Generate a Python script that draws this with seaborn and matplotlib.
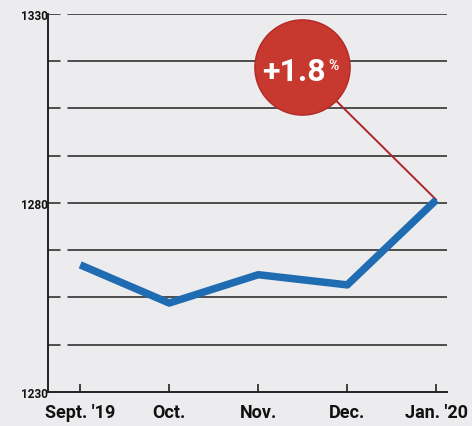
import numpy as np
import pandas as pd
import seaborn as sns
import matplotlib.pyplot as plt

months = ["Sept. '19", "Oct.", "Nov.", "Dec.", "Jan. '20"]
values = [1263.6, 1253.5, 1261.0, 1258.3, 1280.8]
change_label = "+1.8"
y_ticks = [1230, 1280, 1330]
grid_levels = [1230, 1242.5, 1255, 1267.5, 1280, 1292.5, 1305, 1317.5, 1330]

paper = "#ececee"
blue = "#1f6cb3"
red = "#c7382e"

df = pd.DataFrame({"pos": np.arange(len(months)), "value": values})

sns.set_style("white")
plt.rcParams["font.family"] = ["Roboto", "DejaVu Sans"]

fig = plt.figure(figsize=(4.72, 4.27), dpi=100, facecolor=paper)
ax = fig.add_axes([0.102, 0.08, 0.845, 0.885], facecolor=paper)

# gridlines with a small gap next to the axis
for lvl in grid_levels[1:]:
    ax.axhline(lvl, xmin=0.0, xmax=0.03, color="#222222", lw=1.1, zorder=1)
    ax.axhline(lvl, xmin=0.05, xmax=1.0, color="#222222", lw=1.1, zorder=1)

sns.lineplot(data=df, x="pos", y="value", color=blue, linewidth=5.4,
             solid_capstyle="butt", ax=ax, zorder=3)

# callout bubble
cx, cy = 2.49, 1316
ax.plot([cx, df["pos"].iloc[-1]], [cy, values[-1]], color="#b0232b", lw=1.4, zorder=2)
ax.scatter([cx], [cy], s=4700, color=red, edgecolor="#b32a25", linewidth=1, zorder=4)
ax.annotate(change_label, (cx, cy), xytext=(-6, -3), textcoords="offset points",
            ha="center", va="center", color="white", fontsize=23,
            fontweight="bold", zorder=5)
ax.annotate("%", (cx, cy), xytext=(23, 1), textcoords="offset points",
            ha="center", va="center", color="white", fontsize=10,
            fontweight="bold", zorder=5)

ax.set_xlim(-0.36, 4.12)
ax.set_ylim(1230, 1330)
ax.set_xticks(df["pos"])
ax.set_xticklabels(months, fontsize=13, fontweight="bold")
ax.set_yticks(y_ticks)
ax.set_yticklabels([str(t) for t in y_ticks], fontsize=8.5, fontweight="bold")
ax.tick_params(axis="x", bottom=True, direction="in", length=6, width=1.2,
               color="#222222", pad=8, labelcolor="#111111")
ax.tick_params(axis="y", length=0, pad=0, labelcolor="#111111")
ax.set_xlabel("")
ax.set_ylabel("")

sns.despine(ax=ax, top=True, right=True)
for side in ["left", "bottom"]:
    ax.spines[side].set_color("#222222")
    ax.spines[side].set_linewidth(1.4)

fig.savefig("out.png", dpi=100, facecolor=paper)
